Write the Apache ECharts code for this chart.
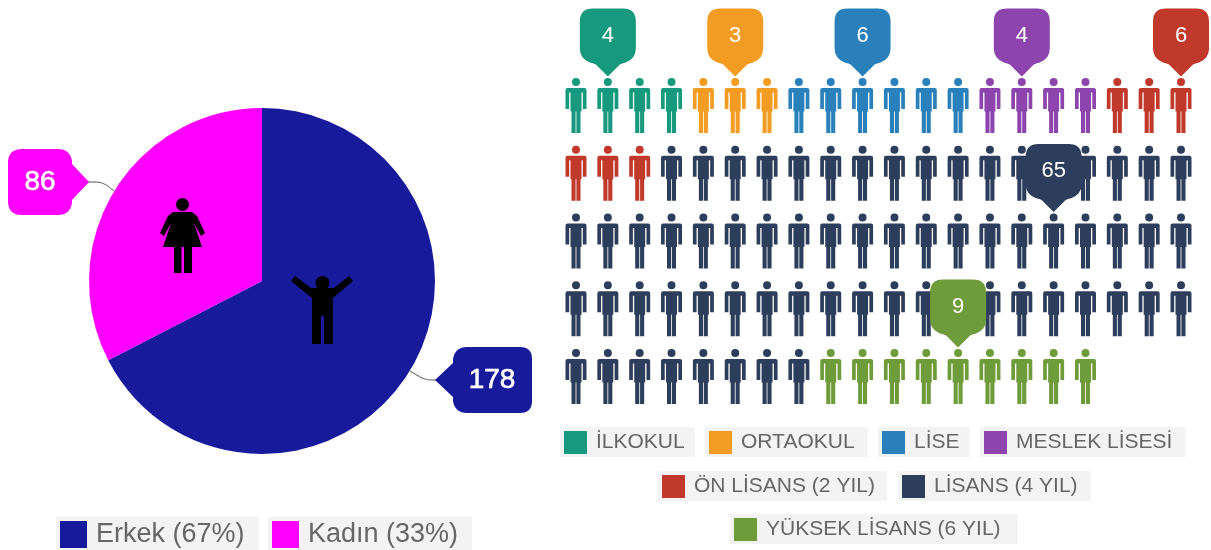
<!DOCTYPE html>
<html>
<head>
<meta charset="utf-8">
<title>Cinsiyet ve eğitim durumu</title>
<style>
  html, body { margin: 0; padding: 0; background: #fff; }
  #chart { width: 1211px; height: 550px; }
</style>
<script src="https://cdn.jsdelivr.net/npm/echarts@6/dist/echarts.min.js"></script>
</head>
<body>
<div id="chart"></div>
<script>
  // gender pie
  const genderNames = ['Erkek', 'Kadın'];
  const genderValues = [178, 86];
  const genderColors = ['#171a9b', '#ff00ff'];

  // education people chart, people are filled left to right, top to bottom
  const levelNames = ['İLKOKUL', 'ORTAOKUL', 'LİSE', 'MESLEK LİSESİ', 'ÖN LİSANS (2 YIL)', 'LİSANS (4 YIL)', 'YÜKSEK LİSANS (6 YIL)'];
  const levelCounts = [4, 3, 6, 4, 6, 65, 9];
  const levelColors = ['#16997c', '#f39c23', '#2a80bb', '#8e44ad', '#c0392b', '#2c3e5c', '#6f9c3b'];
  // which person carries the bubble of each level
  const bubbleSlots = [1, 5, 9, 14, 19, 55, 92];
  const perRow = 20;

  const PERSON = 'path://M10.5 0a4 4 0 1 0 .01 0zM2 10H19Q21 10 21 12V31H17.3V14.5H16V33.5H15V55H10.9V33.5H10.1V55H6V33.5H5V14.5H3.7V31H0V12Q0 10 2 10z';
  const BUBBLE = 'path://M13 0H43Q56 0 56 13V40Q56 50 46 54Q42 55 40 56L28 68L16 56Q14 55 10 54Q0 50 0 40V13Q0 0 13 0z';
  // pictograms on the pie slices, head + body
  const MAN_BODY = [[0, 5], [4, 0], [20, 12], [43, 12], [58, 0], [62, 5], [42, 22], [42, 68], [33, 68], [33, 40], [30, 40], [30, 68], [21, 68], [21, 22]];
  const WOMAN_BODY = [[13, 14], [32, 14], [37, 18], [45, 35], [41, 38], [34, 25], [42, 49], [32, 49], [32, 75], [24, 75], [24, 49], [21.5, 49], [21.5, 75], [14, 75], [14, 49], [3, 49], [11, 25], [4, 38], [0, 35], [8, 18]];

  function calloutImage(color, side) {
    const body = side === 'left'
      ? '<path fill="' + color + '" d="M32 0H85Q97 0 97 12V54Q97 66 85 66H32Q20 66 18 54V50L0 33L18 16V12Q20 0 32 0z"/>'
      : '<path fill="' + color + '" d="M14 0H50Q62 0 64 12V15L81 33L64 51V54Q62 66 50 66H14Q0 66 0 52V14Q0 0 14 0z"/>';
    const w = side === 'left' ? 97 : 81;
    const svg = '<svg xmlns="http://www.w3.org/2000/svg" width="' + w + '" height="66" viewBox="0 0 ' + w + ' 66" preserveAspectRatio="none">' + body + '</svg>';
    return 'data:image/svg+xml;charset=utf-8,' + encodeURIComponent(svg);
  }

  const genderTotal = genderValues.reduce((a, b) => a + b, 0);

  const pieSeries = {
    type: 'pie',
    // wide view box, otherwise the pie cuts the left label short
    left: -400,
    top: 0,
    width: 2000,
    height: 550,
    center: [662, 281],
    radius: [0, 173],
    startAngle: 90,
    silent: true,
    itemStyle: { borderWidth: 0 },
    labelLine: { show: true, smooth: 0.3, lineStyle: { color: '#555', width: 1 } },
    labelLayout: function (params) {
      return params.dataIndex === 0
        ? { x: 435, y: 347, align: 'left', verticalAlign: 'top', labelLinePoints: [[410, 371], [425, 380], [437, 380]] }
        : { x: 8, y: 149, align: 'left', verticalAlign: 'top', labelLinePoints: [[114, 191], [103, 182], [87, 182]] };
    },
    data: genderNames.map(function (name, i) {
      const left = i === 0;
      return {
        name: name,
        value: genderValues[i],
        itemStyle: { color: genderColors[i] },
        label: {
          formatter: '{v|{c}}',
          padding: left ? [0, 0, 0, 17] : [0, 17, 0, 0],
          backgroundColor: { image: calloutImage(genderColors[i], left ? 'left' : 'right') },
          rich: {
            v: {
              width: left ? 80 : 64,
              height: 66,
              lineHeight: 66,
              align: 'center',
              color: '#fff',
              fontFamily: 'Liberation Sans',
              fontSize: 28,
              textBorderColor: '#fff',
              textBorderWidth: 0.6
            }
          }
        }
      };
    })
  };

  let slot = 0;
  const peopleSeries = levelNames.map(function (name, i) {
    const points = [];
    for (let k = 0; k < levelCounts[i]; k++) {
      points.push([slot % perRow, Math.floor(slot / perRow)]);
      slot++;
    }
    return {
      type: 'scatter',
      name: name,
      symbol: PERSON,
      symbolSize: [21, 55],
      silent: true,
      itemStyle: { color: levelColors[i], opacity: 1 },
      data: points,
      markPoint: {
        silent: true,
        symbol: BUBBLE,
        symbolSize: [56, 68],
        symbolOffset: [0, -63],
        itemStyle: { color: levelColors[i] },
        label: {
          show: true,
          position: 'inside',
          offset: [0, -7],
          color: '#fff',
          fontFamily: 'Liberation Sans',
          fontSize: 22,
          formatter: '{c}'
        },
        data: [{
          coord: [bubbleSlots[i] % perRow, Math.floor(bubbleSlots[i] / perRow)],
          value: levelCounts[i]
        }]
      }
    };
  });

  // one legend per chip, so each chip gets its own grey box
  function chip(name, left, top, fontSize, iconSize, padRight) {
    return {
      data: [name],
      left: left,
      top: top,
      orient: 'horizontal',
      icon: 'rect',
      itemWidth: iconSize,
      itemHeight: iconSize,
      padding: [4, padRight, 3, 4],
      backgroundColor: '#f3f3f3',
      selectedMode: false,
      formatter: function (n) {
        const idx = genderNames.indexOf(n);
        return idx < 0 ? n : n + ' (' + Math.round(genderValues[idx] / genderTotal * 100) + '%)';
      },
      textStyle: { color: '#666', fontFamily: 'Liberation Sans', fontSize: fontSize, padding: [0, 0, 0, 4] }
    };
  }

  function pictogram(x, y, headX, headY, headR, body) {
    return {
      type: 'group',
      x: x,
      y: y,
      z: 10,
      silent: true,
      children: [
        { type: 'circle', z: 10, shape: { cx: headX, cy: headY, r: headR }, style: { fill: '#000' } },
        { type: 'polygon', z: 10, shape: { points: body }, style: { fill: '#000' } }
      ]
    };
  }

  const chart = echarts.init(document.getElementById('chart'), null, { renderer: 'canvas' });
  chart.setOption({
    animation: false,
    backgroundColor: '#fff',
    grid: { left: 576, right: 30, top: 105.5, height: 271, containLabel: false },
    xAxis: { type: 'value', min: 0, max: perRow - 1, show: false },
    yAxis: { type: 'value', min: 0, max: 4, inverse: true, show: false },
    legend: [
      chip(genderNames[0], 56, 517, 27, 27, 14),
      chip(genderNames[1], 268, 517, 27, 27, 14),
      chip(levelNames[0], 560, 427, 21, 23, 10),
      chip(levelNames[1], 705, 427, 21, 23, 13),
      chip(levelNames[2], 878, 427, 21, 23, 10),
      chip(levelNames[3], 980, 427, 21, 23, 13),
      chip(levelNames[4], 658, 471, 21, 23, 12),
      chip(levelNames[5], 898, 471, 21, 23, 13),
      chip(levelNames[6], 730, 514, 21, 23, 17)
    ],
    graphic: [
      pictogram(291, 276, 31.5, 7, 7, MAN_BODY),
      pictogram(160, 198, 22.5, 6.5, 6.5, WOMAN_BODY)
    ],
    series: [pieSeries].concat(peopleSeries)
  });

  window.addEventListener('resize', function () {
    chart.resize();
  });
</script>
</body>
</html>
